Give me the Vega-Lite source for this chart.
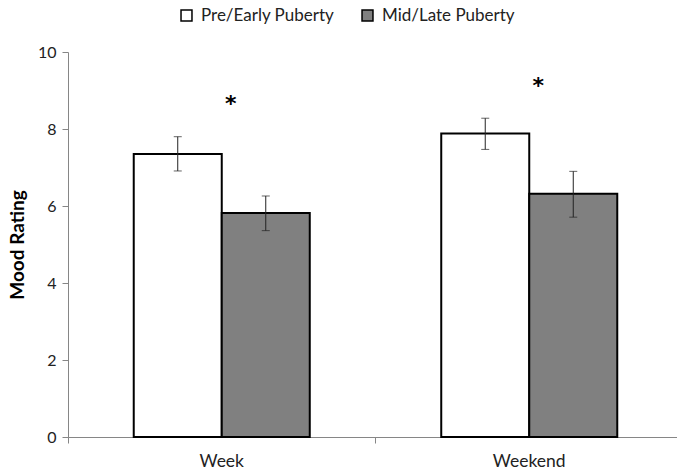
{
  "$schema": "https://vega.github.io/schema/vega-lite/v6.json",
  "width": 609,
  "height": 385,
  "autosize": "none",
  "padding": {"left": 68, "top": 52, "right": 0, "bottom": 37},
  "background": "white",
  "config": {"view": {"stroke": null}, "font": "Lato"},
  "datasets": {
    "means": [
      {"day": "Week", "group": "Pre/Early Puberty", "mean": 7.35, "lo": 6.91, "hi": 7.8},
      {"day": "Week", "group": "Mid/Late Puberty", "mean": 5.82, "lo": 5.36, "hi": 6.26},
      {"day": "Weekend", "group": "Pre/Early Puberty", "mean": 7.88, "lo": 7.47, "hi": 8.28},
      {"day": "Weekend", "group": "Mid/Late Puberty", "mean": 6.32, "lo": 5.71, "hi": 6.9}
    ],
    "sig": [
      {"day": "Week", "y": 8.84, "label": "*"},
      {"day": "Weekend", "y": 9.29, "label": "*"}
    ]
  },
  "encoding": {
    "x": {
      "field": "day",
      "type": "nominal",
      "sort": ["Week", "Weekend"],
      "scale": {"range": [0, 615], "paddingInner": 0, "paddingOuter": 0},
      "axis": {
        "title": null,
        "labelAngle": 0,
        "bandPosition": 0,
        "domainColor": "#868686",
        "tickColor": "#868686",
        "tickSize": 6,
        "labelPadding": 9,
        "labelFontSize": 17.5,
        "labelColor": "#222222",
        "labelFont": "Lato"
      }
    }
  },
  "layer": [
    {
      "data": {"name": "means"},
      "mark": {"type": "bar", "stroke": "black", "strokeWidth": 2},
      "encoding": {
        "xOffset": {
          "field": "group",
          "sort": ["Pre/Early Puberty", "Mid/Late Puberty"],
          "scale": {"paddingInner": 0, "paddingOuter": 0.747}
        },
        "y": {
          "field": "mean",
          "type": "quantitative",
          "scale": {"domain": [0, 10]},
          "axis": {
            "values": [0, 2, 4, 6, 8, 10],
            "title": "Mood Rating",
            "titleFontWeight": "bold",
            "titleFontSize": 19,
            "titleFont": "Lato",
            "titleColor": "#000000",
            "titlePadding": 10,
            "grid": false,
            "domainColor": "#868686",
            "tickColor": "#868686",
            "tickSize": 6,
            "labelFontSize": 16,
            "labelColor": "#222222",
            "labelPadding": 6
          }
        },
        "fill": {
          "field": "group",
          "type": "nominal",
          "scale": {
            "domain": ["Pre/Early Puberty", "Mid/Late Puberty"],
            "range": ["#ffffff", "#808080"]
          },
          "legend": {
            "orient": "none",
            "legendX": 110,
            "legendY": -45,
            "direction": "horizontal",
            "title": null,
            "symbolType": "square",
            "symbolSize": 120,
            "symbolStrokeColor": "black",
            "symbolStrokeWidth": 1.5,
            "labelFontSize": 17,
            "labelColor": "#222222",
            "labelOffset": 6,
            "columnPadding": 24
          }
        }
      }
    },
    {
      "data": {"name": "means"},
      "mark": {"type": "rule", "stroke": "#222222", "strokeWidth": 1},
      "encoding": {
        "xOffset": {"field": "group", "sort": ["Pre/Early Puberty", "Mid/Late Puberty"]},
        "y": {"field": "lo", "type": "quantitative"},
        "y2": {"field": "hi"}
      }
    },
    {
      "data": {"name": "means"},
      "mark": {"type": "tick", "color": "#222222", "size": 8, "thickness": 1, "orient": "horizontal"},
      "encoding": {
        "xOffset": {"field": "group", "sort": ["Pre/Early Puberty", "Mid/Late Puberty"]},
        "y": {"field": "lo", "type": "quantitative"}
      }
    },
    {
      "data": {"name": "means"},
      "mark": {"type": "tick", "color": "#222222", "size": 8, "thickness": 1, "orient": "horizontal"},
      "encoding": {
        "xOffset": {"field": "group", "sort": ["Pre/Early Puberty", "Mid/Late Puberty"]},
        "y": {"field": "hi", "type": "quantitative"}
      }
    },
    {
      "data": {"name": "sig"},
      "mark": {"type": "text", "font": "DejaVu Sans", "fontSize": 22, "fontWeight": "bold", "dx": 9, "dy": 7, "baseline": "middle", "fill": "#000000"},
      "encoding": {
        "y": {"field": "y", "type": "quantitative"},
        "text": {"field": "label"}
      }
    }
  ]
}
